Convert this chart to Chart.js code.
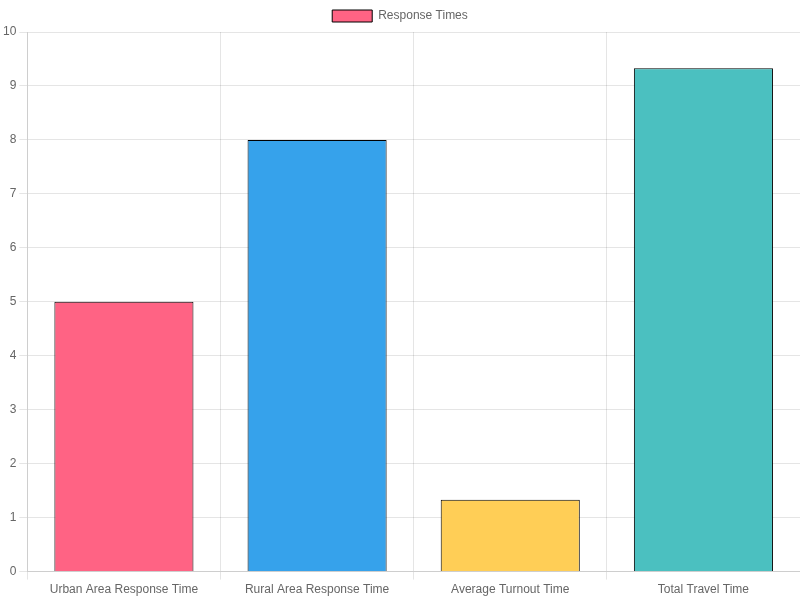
<!DOCTYPE html>
<html>
<head>
<meta charset="utf-8">
<script src="https://cdn.jsdelivr.net/npm/chart.js@4"></script>
<style>
  html, body { margin: 0; padding: 0; background: #fff; }
  #wrap { width: 800px; height: 600px; }
</style>
</head>
<body>
<div id="wrap"><canvas id="responseChart"></canvas></div>
<script>
// Dados do gráfico
const categorias = ['Urban Area Response Time', 'Rural Area Response Time', 'Average Turnout Time', 'Total Travel Time'];
const tempos = [5, 8, 1.33, 9.33];
const cores = ['#FF6384', '#36A2EB', '#FFCE56', '#4BC0C0'];

const ctx = document.getElementById('responseChart').getContext('2d');
new Chart(ctx, {
    type: 'bar',
    data: {
        labels: categorias,
        datasets: [{
            label: 'Response Times',
            data: tempos,
            backgroundColor: cores,
            borderColor: '#000',
            borderWidth: 1
        }]
    },
    options: {
        responsive: true,
        maintainAspectRatio: false,
        animation: false,
        scales: {
            y: { beginAtZero: true, max: 10, ticks: { stepSize: 1 } }
        }
    }
});
</script>
</body>
</html>
